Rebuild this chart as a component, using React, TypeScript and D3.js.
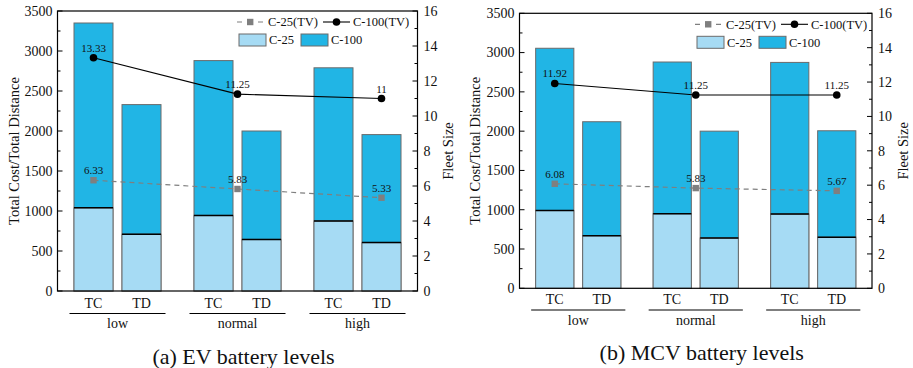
import * as d3 from 'd3';

const levels = ['low', 'normal', 'high'];
const methods = ['TC', 'TD'];

// EV panel: bar values ordered low-TC, low-TD, normal-TC, normal-TD, high-TC, high-TD
const evC100 = [3350, 2330, 2880, 2000, 2790, 1955];
const evC25 = [1040, 710, 945, 645, 875, 605];
const evFleet100 = [13.33, 11.25, 11];
const evFleet25 = [6.33, 5.83, 5.33];

// MCV panel
const mcvC100 = [3055, 2120, 2880, 2000, 2875, 2005];
const mcvC25 = [990, 670, 950, 640, 945, 650];
const mcvFleet100 = [11.92, 11.25, 11.25];
const mcvFleet25 = [6.08, 5.83, 5.67];

const leftTicks = [0, 500, 1000, 1500, 2000, 2500, 3000, 3500];
const rightTicks = [0, 2, 4, 6, 8, 10, 12, 14, 16];

const FONT = '"Liberation Serif", "Times New Roman", serif';
const LIGHT = '#a6dbf4';
const DARK = '#21b5e5';
const EDGE = '#6b6b6b';
const GREY = '#7f7f7f';

interface PanelProps {
  x0: number; x1: number; y0: number; y1: number;
  c100: number[]; c25: number[]; f100: number[]; f25: number[];
  title: string; titleY: number; catY: number; legendX: number; legendY: number;
  leftTitleX: number; rightTitleX: number;
}

function Panel({ x0, x1, y0, y1, c100, c25, f100, f25, title, titleY, catY, legendX, legendY, leftTitleX, rightTitleX }: PanelProps) {
  const yL = d3.scaleLinear().domain([0, 3500]).range([y1, y0]);
  const yR = d3.scaleLinear().domain([0, 16]).range([y1, y0]);
  const xGroup = d3.scaleBand().domain(levels).range([x0, x1]).padding(0);
  const groupW = xGroup.bandwidth() * 0.725;
  const xInner = d3.scaleBand().domain(methods).range([-groupW / 2, groupW / 2]).paddingInner(0.1875).paddingOuter(0);
  const bw = xInner.bandwidth();

  const bars = levels.flatMap((lv, gi) => methods.map((m, mi) => {
    const cx = xGroup(lv)! + xGroup.bandwidth() / 2;
    return { key: lv + m, lv, m, x: cx + xInner(m)!, c100: c100[gi * 2 + mi], c25: c25[gi * 2 + mi] };
  }));

  const firstCenter = bars[0].x + bw / 2;
  const lastCenter = bars[bars.length - 1].x + bw / 2;
  const xPt = d3.scalePoint().domain(levels).range([firstCenter, lastCenter]);

  const line100 = d3.line<number>().x((_, i) => xPt(levels[i])!).y(d => yR(d));
  const line25 = d3.line<number>().x((_, i) => xPt(levels[i])!).y(d => yR(d));

  const minorL = d3.range(250, 3500, 500);
  const minorR = d3.range(1, 16, 2);
  const midY = (y0 + y1) / 2;

  return (
    <g fontFamily={FONT} fill="#111">
      {/* bars */}
      {bars.map(b => (
        <g key={b.key}>
          <rect x={b.x} y={yL(b.c100)} width={bw} height={yL(0) - yL(b.c100)} fill={DARK} stroke={EDGE} strokeWidth={1} />
          <rect x={b.x} y={yL(b.c25)} width={bw} height={yL(0) - yL(b.c25)} fill={LIGHT} stroke={EDGE} strokeWidth={1} />
          <line x1={b.x} x2={b.x + bw} y1={yL(b.c25)} y2={yL(b.c25)} stroke="#000" strokeWidth={1.5} />
        </g>
      ))}

      {/* fleet size lines */}
      <path d={line25(f25) || ''} fill="none" stroke={GREY} strokeWidth={1.2} strokeDasharray="5,4" />
      <path d={line100(f100) || ''} fill="none" stroke="#000" strokeWidth={1.1} />
      {f25.map((v, i) => (
        <g key={'s' + i}>
          <rect x={xPt(levels[i])! - 3.2} y={yR(v) - 3.2} width={6.4} height={6.4} fill={GREY} />
          <text x={xPt(levels[i])} y={yR(v) - 6} textAnchor="middle" fontSize={11}>{v}</text>
        </g>
      ))}
      {f100.map((v, i) => (
        <g key={'c' + i}>
          <circle cx={xPt(levels[i])} cy={yR(v)} r={3.8} fill="#000" />
          <text x={xPt(levels[i])} y={yR(v) - 6} textAnchor="middle" fontSize={11}>{v}</text>
        </g>
      ))}

      {/* frame */}
      <rect x={x0} y={y0} width={x1 - x0} height={y1 - y0} fill="none" stroke="#000" strokeWidth={1.2} />

      {/* left axis */}
      {leftTicks.map(t => (
        <g key={'l' + t}>
          <line x1={x0} x2={x0 + 5} y1={yL(t)} y2={yL(t)} stroke="#000" />
          <text x={x0 - 5} y={yL(t)} dy="0.35em" textAnchor="end" fontSize={14}>{t}</text>
        </g>
      ))}
      {minorL.map(t => (
        <line key={'lm' + t} x1={x0} x2={x0 + 3} y1={yL(t)} y2={yL(t)} stroke="#000" />
      ))}
      <text x={leftTitleX} y={midY} textAnchor="middle" dy="0.35em" fontSize={14.5}
        transform={`rotate(-90, ${leftTitleX}, ${midY})`}>Total Cost/Total Distance</text>

      {/* right axis */}
      {rightTicks.map(t => (
        <g key={'r' + t}>
          <line x1={x1 - 5} x2={x1} y1={yR(t)} y2={yR(t)} stroke="#000" />
          <text x={x1 + 6} y={yR(t)} dy="0.35em" textAnchor="start" fontSize={14}>{t}</text>
        </g>
      ))}
      {minorR.map(t => (
        <line key={'rm' + t} x1={x1 - 3} x2={x1} y1={yR(t)} y2={yR(t)} stroke="#000" />
      ))}
      <text x={rightTitleX} y={midY} textAnchor="middle" dy="0.35em" fontSize={14.5}
        transform={`rotate(-90, ${rightTitleX}, ${midY})`}>Fleet Size</text>

      {/* category labels */}
      {bars.map(b => (
        <text key={'t' + b.key} x={b.x + bw / 2} y={catY} dy="0.35em" textAnchor="middle" fontSize={14}>{b.m}</text>
      ))}
      {levels.map(lv => {
        const cx = xGroup(lv)! + xGroup.bandwidth() / 2;
        return (
          <g key={'g' + lv}>
            <line x1={cx - groupW / 2 - 4.5} x2={cx + groupW / 2 + 4.5} y1={catY + 10.5} y2={catY + 10.5} stroke="#000" strokeWidth={1.2} />
            <text x={cx} y={catY + 20.5} dy="0.35em" textAnchor="middle" fontSize={14}>{lv}</text>
          </g>
        );
      })}

      {/* legend */}
      <g transform={`translate(${legendX},${legendY})`} fontSize={12.5}>
        <line x1={0} x2={26} y1={0} y2={0} stroke={GREY} strokeWidth={1.2} strokeDasharray="5,5.5" />
        <rect x={10} y={-3.2} width={6.4} height={6.4} fill={GREY} />
        <text x={31} y={0} dy="0.35em">C-25(TV)</text>
        <line x1={86} x2={113} y1={0} y2={0} stroke="#000" strokeWidth={1.1} />
        <circle cx={99.5} cy={0} r={3.8} fill="#000" />
        <text x={116} y={0} dy="0.35em">C-100(TV)</text>
        <rect x={2} y={12} width={27} height={12} fill={LIGHT} stroke={EDGE} />
        <text x={32} y={18} dy="0.35em">C-25</text>
        <rect x={64} y={12} width={27} height={12} fill={DARK} stroke={EDGE} />
        <text x={94} y={18} dy="0.35em">C-100</text>
      </g>

      <text x={(x0 + x1) / 2 + 6} y={titleY} dy="0.35em" textAnchor="middle" fontSize={22}>{title}</text>
    </g>
  );
}

export default function App() {
  return (
    <div style={{ position: 'absolute', left: 0, top: 0, background: '#fff' }}>
      <svg width={913} height={368} style={{ display: 'block' }}>
        <rect width={913} height={368} fill="#fff" />
        <Panel x0={57.5} x1={417.5} y0={11} y1={291} c100={evC100} c25={evC25} f100={evFleet100} f25={evFleet25}
          title="(a) EV battery levels" titleY={356} catY={303} legendX={237} legendY={22}
          leftTitleX={14} rightTitleX={448} />
        <Panel x0={519.5} x1={872} y0={13.3} y1={288.3} c100={mcvC100} c25={mcvC25} f100={mcvFleet100} f25={mcvFleet25}
          title="(b) MCV battery levels" titleY={352} catY={299.5} legendX={695} legendY={24.3}
          leftTitleX={475} rightTitleX={903} />
      </svg>
    </div>
  );
}
